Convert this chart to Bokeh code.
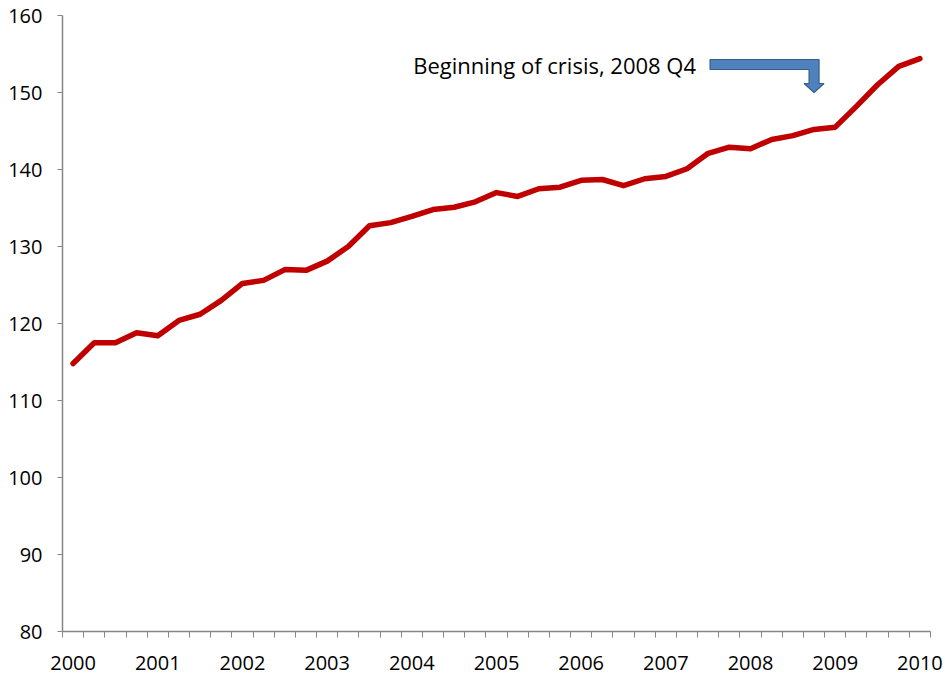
from bokeh.plotting import figure
from bokeh.models import FixedTicker, Range1d, Label
from bokeh.embed import file_html
from bokeh.resources import INLINE

# ---- data ----
years = [str(y) for y in range(2000, 2011)]
quarters = [f"{y}Q{q}" for y in range(2000, 2010) for q in range(1, 5)] + ["2010Q1"]
values = [114.8, 117.5, 117.5, 118.8, 118.4, 120.4, 121.2, 123.0, 125.2, 125.6,
          127.0, 126.9, 128.1, 130.0, 132.7, 133.1, 133.9, 134.8, 135.1, 135.8,
          137.0, 136.5, 137.5, 137.7, 138.6, 138.7, 137.9, 138.8, 139.1, 140.1,
          142.1, 142.9, 142.7, 143.9, 144.4, 145.2, 145.5, 148.2, 151.0, 153.4,
          154.4]
y_ticks = [80, 90, 100, 110, 120, 130, 140, 150, 160]
annotation_text = "Beginning of crisis, 2008 Q4"
crisis_quarter = "2008Q4"

FONT = "Open Sans"
xs = list(range(len(quarters)))

p = figure(width=945, height=678, output_backend="svg", toolbar_location=None,
           x_range=Range1d(-0.5, len(quarters) - 0.5),
           y_range=Range1d(y_ticks[0], y_ticks[-1]),
           min_border_left=62, min_border_right=15, min_border_top=15, min_border_bottom=47)
p.outline_line_color = None
p.xgrid.visible = False
p.ygrid.visible = False
p.background_fill_color = "white"

p.line(xs, values, line_color="#C00000", line_width=5.5, line_join="round", line_cap="round")

# x axis: year labels at Q1 positions, small ticks at quarter boundaries
p.xaxis.ticker = FixedTicker(ticks=[i for i in xs if i % 4 == 0],
                             minor_ticks=[i - 0.5 for i in range(len(quarters) + 1)])
p.xaxis.major_label_overrides = {i: years[i // 4] for i in xs if i % 4 == 0}
p.xaxis.major_tick_out = 0
p.xaxis.major_tick_in = 0
p.xaxis.minor_tick_out = 6
p.xaxis.minor_tick_in = 0
p.xaxis.major_label_standoff = 18

p.yaxis.ticker = FixedTicker(ticks=y_ticks, minor_ticks=[])
p.yaxis.major_tick_out = 5
p.yaxis.major_tick_in = 0
p.yaxis.minor_tick_out = 0
p.yaxis.major_label_standoff = 15

for ax in (p.xaxis, p.yaxis):
    ax.axis_line_color = "#868686"
    ax.axis_line_width = 1.5
    ax.major_tick_line_color = "#868686"
    ax.minor_tick_line_color = "#868686"
    ax.minor_tick_line_width = 1
    ax.major_tick_line_width = 1
    ax.major_label_text_font = FONT
    ax.major_label_text_font_size = "20px"
    ax.major_label_text_color = "#000000"

# bent arrow pointing down at the crisis quarter
ci = quarters.index(crisis_quarter)
px_x = 21.17   # pixels per quarter
px_y = 7.7     # pixels per unit
tip_y = 150.0
def pt(dx, dy):
    return ci + dx / px_x, tip_y + dy / px_y
shape = [(-104, 33), (5, 33), (5, 9), (10, 9), (0, 0), (-10, 9), (-5, 9), (-5, 23), (-104, 23)]
ax_, ay_ = zip(*[pt(dx, dy) for dx, dy in shape])
p.patch(list(ax_), list(ay_), fill_color="#4F81BD", line_color="#385D8A", line_width=1.2)

lx, ly = pt(-118, 28)
p.add_layout(Label(x=lx, y=ly, text=annotation_text, text_align="right", text_baseline="middle",
                   text_font=FONT, text_font_size="22px", text_color="#000000"))

open("out.html", "w").write(file_html(p, INLINE))
